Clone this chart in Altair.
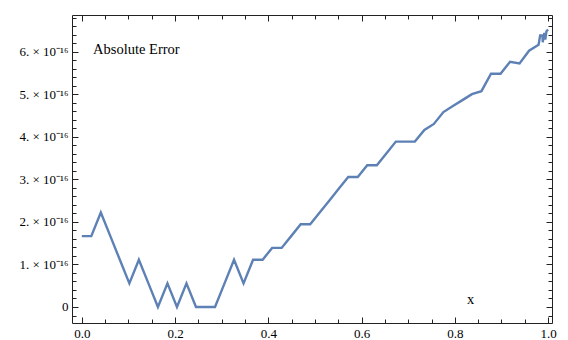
import altair as alt
import pandas as pd

# sample points (x) and absolute error in units of 1e-16
x_vals = [0.0, 0.0204, 0.0408, 0.0612, 0.0816, 0.102, 0.1224, 0.1429, 0.1633, 0.1837,
          0.2041, 0.2245, 0.2449, 0.2653, 0.2857, 0.3061, 0.3265, 0.3469, 0.3673, 0.3878,
          0.4082, 0.4286, 0.449, 0.4694, 0.4898, 0.5102, 0.5306, 0.551, 0.5714, 0.5918,
          0.6122, 0.6327, 0.6531, 0.6735, 0.6939, 0.7143, 0.7347, 0.7551, 0.7755, 0.7959,
          0.8163, 0.8367, 0.8571, 0.8776, 0.898, 0.9184, 0.9388, 0.9592, 0.9796,
          0.983, 0.988, 0.9885, 0.992, 0.994, 0.9965, 1.0]
err_e16 = [1.665, 1.665, 2.22, 1.665, 1.11, 0.555, 1.11, 0.555, 0.0, 0.555,
           0.0, 0.555, 0.0, 0.0, 0.0, 0.555, 1.11, 0.555, 1.11, 1.11,
           1.388, 1.388, 1.665, 1.943, 1.943, 2.22, 2.498, 2.776, 3.053, 3.053,
           3.331, 3.331, 3.608, 3.886, 3.886, 3.886, 4.16, 4.30, 4.58, 4.72,
           4.86, 5.00, 5.07, 5.48, 5.48, 5.76, 5.72, 6.02, 6.16,
           6.38, 6.38, 6.22, 6.44, 6.28, 6.48, 6.52]

x_major = [0.0, 0.2, 0.4, 0.6, 0.8, 1.0]
x_minor = [0.05, 0.1, 0.15, 0.25, 0.3, 0.35, 0.45, 0.5, 0.55, 0.65, 0.7, 0.75, 0.85, 0.9, 0.95]
y_major = [0, 1, 2, 3, 4, 5, 6]
y_tick_labels = ["0", "1. \u00d7 10\u207b\u00b9\u2076", "2. \u00d7 10\u207b\u00b9\u2076",
                 "3. \u00d7 10\u207b\u00b9\u2076", "4. \u00d7 10\u207b\u00b9\u2076",
                 "5. \u00d7 10\u207b\u00b9\u2076", "6. \u00d7 10\u207b\u00b9\u2076"]
y_minor = [-0.2, 0.2, 0.4, 0.6, 0.8, 1.2, 1.4, 1.6, 1.8, 2.2, 2.4, 2.6, 2.8,
           3.2, 3.4, 3.6, 3.8, 4.2, 4.4, 4.6, 4.8, 5.2, 5.4, 5.6, 5.8, 6.2, 6.4, 6.6, 6.8]

label_text = ["Absolute Error", "x"]
label_x = [0.117, 0.834]
label_y = [6.04, 0.16]

FONT = "Liberation Serif"
FRAME = "#222222"
LINE = "#5E81B5"

df = pd.DataFrame({"x": x_vals, "err": err_e16})
lab = pd.DataFrame({"x": label_x, "y": label_y, "t": label_text})

xs = alt.Scale(domain=[-0.021, 1.0084], nice=False, zero=False)
ys = alt.Scale(domain=[-0.376, 6.86], nice=False, zero=False)

ylabel_expr = "[" + ",".join("'" + s + "'" for s in y_tick_labels) + "][round(datum.value)]"


def ax(orient, values, size, labels=False, **kw):
    return alt.Axis(orient=orient, values=values, tickSize=size, offset=-size,
                    domain=False, grid=False, labels=labels, title=None,
                    tickColor=FRAME, tickWidth=1, labelFont=FONT, labelFontSize=13,
                    labelColor="#000000", labelPadding=4, **kw)


line = alt.Chart(df).mark_line(color=LINE, strokeWidth=2.4).encode(
    x=alt.X("x:Q", scale=xs, axis=ax("bottom", x_major, 6, True, format=".1f")),
    y=alt.Y("err:Q", scale=ys, axis=ax("left", y_major, 6, True, labelExpr=ylabel_expr)),
)
major2 = alt.Chart(df).mark_line(opacity=0).encode(
    x=alt.X("x:Q", scale=xs, axis=ax("top", x_major, 6)),
    y=alt.Y("err:Q", scale=ys, axis=ax("right", y_major, 6)),
)
minor1 = alt.Chart(df).mark_line(opacity=0).encode(
    x=alt.X("x:Q", scale=xs, axis=ax("bottom", x_minor, 4)),
    y=alt.Y("err:Q", scale=ys, axis=ax("left", y_minor, 4)),
)
minor2 = alt.Chart(df).mark_line(opacity=0).encode(
    x=alt.X("x:Q", scale=xs, axis=ax("top", x_minor, 4)),
    y=alt.Y("err:Q", scale=ys, axis=ax("right", y_minor, 4)),
)
text = alt.Chart(lab).mark_text(font=FONT, fontSize=14.5, color="#000000").encode(
    x=alt.X("x:Q", scale=xs, axis=None),
    y=alt.Y("y:Q", scale=ys, axis=None),
    text="t:N",
)

chart = alt.layer(line, major2, minor1, minor2, text).resolve_axis(
    x="independent", y="independent"
).properties(
    width=480, height=308,
    autosize=alt.AutoSizeParams(type="none"),
    padding={"left": 64, "top": 7, "right": 8, "bottom": 17},
).configure_view(stroke=FRAME, strokeWidth=1)

chart.save("out.html", embed_options={"renderer": "svg", "actions": False})
